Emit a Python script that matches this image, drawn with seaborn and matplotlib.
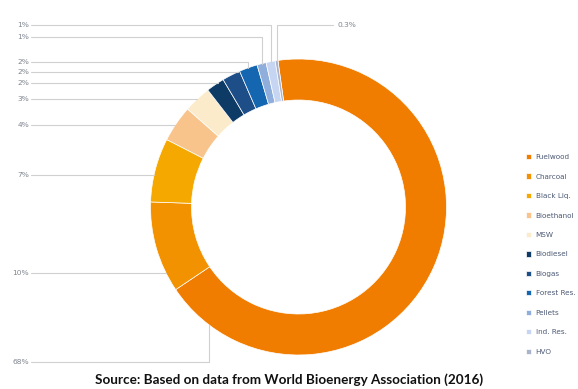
import matplotlib
matplotlib.use("Agg")
import matplotlib.pyplot as plt
import seaborn as sns
import numpy as np

# ---------------- data ----------------
categories = ["Fuelwood", "Charcoal", "Black Liq.", "Bioethanol", "MSW", "Biodiesel",
              "Biogas", "Forest Res.", "Pellets", "Ind. Res.", "HVO"]
shares = [68, 10, 7, 4, 3, 2, 2, 2, 1, 1, 0.3]
share_labels = ["68%", "10%", "7%", "4%", "3%", "2%", "2%", "2%", "1%", "1%", "0.3%"]
colors_hex = ["#F07D00", "#F39200", "#F5A800", "#F8C48C", "#FCEBCB", "#0E3A66",
              "#1E4E88", "#1466B0", "#8FAEDC", "#C6D6F2", "#A9B4CC"]
source_text = "Source: Based on data from World Bioenergy Association (2016)"

# ---------------- layout (pixel units, y from top) ----------------
W, H = 578, 389
cx, cy, R, ring = 298.5, 207, 148, 41
start_deg = 98
label_y = [362, 273, 175, 125, 99, 83, 72, 62, 37, 25, 25]
label_side = ["L"] * 10 + ["R"]
anchor_override = {0: 233}   # anchor angle for Fuelwood leader

sns.set_theme(style="white")
plt.rcParams["font.family"] = ["DejaVu Sans"]
palette = sns.color_palette(colors_hex)

fig = plt.figure(figsize=(W / 100, H / 100), dpi=100)
ax = fig.add_axes([0, 0, 1, 1])

def Y(ypx):
    return H - ypx

wedges, _ = ax.pie(shares, colors=palette, startangle=start_deg, counterclock=False,
                   radius=R, center=(cx, Y(cy)),
                   wedgeprops=dict(width=ring, edgecolor="white", linewidth=0.5))
ax.set_xlim(0, W)
ax.set_ylim(0, H)
ax.set_aspect("equal")
ax.axis("off")

# wedge angle ranges (clockwise from start)
total = float(sum(shares))
bounds = []
a = start_deg
for v in shares:
    span = v / total * 360
    bounds.append((a - span, a))
    a -= span

line_col = "#d0d0d0"
txt_col = "#80868f"
for i, (lo, hi) in enumerate(bounds):
    ly = label_y[i]
    ang = None
    if i in anchor_override:
        ang = anchor_override[i]
    else:
        dy = cy - ly
        if abs(dy) < R:
            t = np.degrees(np.arctan2(dy, -np.sqrt(R ** 2 - dy ** 2))) % 360
            for c in (t, t - 360, t + 360):
                if lo <= c <= hi:
                    ang = c
        if ang is None:
            ang = (lo + hi) / 2
    px = cx + R * np.cos(np.radians(ang))
    py = cy - R * np.sin(np.radians(ang))
    if label_side[i] == "L":
        ax.plot([31, px, px], [Y(ly), Y(ly), Y(py)], color=line_col, lw=0.8, zorder=1)
        ax.text(29, Y(ly), share_labels[i], ha="right", va="center", fontsize=5.4,
                color=txt_col)
    else:
        ax.plot([333, px, px], [Y(ly), Y(ly), Y(py)], color=line_col, lw=0.8, zorder=1)
        ax.text(337, Y(ly), share_labels[i], ha="left", va="center", fontsize=5.4,
                color=txt_col)

leg = ax.legend(wedges, categories, loc="upper left",
                bbox_to_anchor=(526, Y(154)), bbox_transform=ax.transData,
                frameon=False, fontsize=5.2, labelspacing=1.84, handlelength=0.75,
                handleheight=0.75, handletextpad=0.6, borderpad=0, borderaxespad=0)
for t in leg.get_texts():
    t.set_color("#4d5a75")

fig.text(0.5, Y(380) / H, source_text, ha="center", va="center", fontsize=9.7,
         fontweight="bold", color="#111111", family=["Lato", "DejaVu Sans"])

fig.savefig("out.png", dpi=100, facecolor="white")
